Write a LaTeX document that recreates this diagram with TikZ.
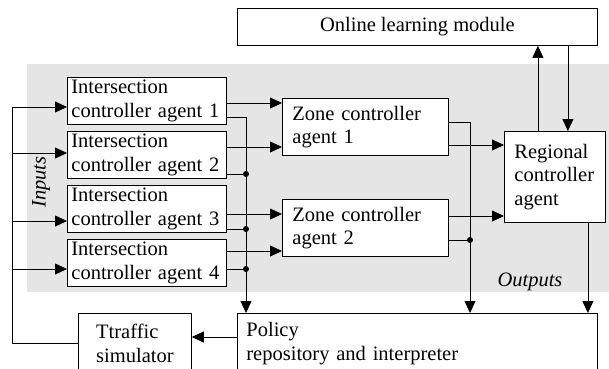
\documentclass[tikz,border=0pt]{standalone}
\usepackage{fontspec}
\setmainfont{Liberation Serif}
\usetikzlibrary{arrows.meta,positioning,calc}

\begin{document}
\begin{tikzpicture}[x=1pt, y=-1pt,
  font=\fontsize{20.5}{23.5}\selectfont, line width=0.8pt,
  box/.style={draw, fill=white, anchor=north west, align=left, inner ysep=0pt},
  ica/.style={box, minimum width=159pt, minimum height=47pt, inner xsep=4pt, text width=151pt},
  zca/.style={box, minimum width=166pt, minimum height=57pt, inner xsep=10pt, text width=146pt},
  arr/.style={-{Triangle[length=12pt,width=11pt]}},
  dot/.style={fill, circle, inner sep=0pt, minimum size=6pt}]
  \useasboundingbox (0,0) rectangle (609,368);
  \fill[black!10] (27,64) rectangle (609,292);
  \node[box, align=center, minimum width=360pt, minimum height=37pt] (olm) at (237,8) {Online learning module};
  \node[ica] (ica1) at (67,77) {Intersection\\controller agent 1};
  \node[ica] (ica2) at (67,131) {Intersection\\controller agent 2};
  \node[ica] (ica3) at (67,185) {Intersection\\controller agent 3};
  \node[ica] (ica4) at (67,239) {Intersection\\controller agent 4};
  \node[zca] (zca1) at (282,98) {Zone controller\\agent 1};
  \node[zca] (zca2) at (282,199) {Zone controller\\agent 2};
  \node[box, minimum width=101pt, minimum height=91pt, inner xsep=10pt, text width=81pt] (rca) at (504,131) {Regional\\controller\\agent};
  \node[box, minimum width=360pt, minimum height=60pt, inner xsep=9pt, text width=342pt] (pol) at (237,313) {Policy\\repository and interpreter};
  \node[box, minimum width=113pt, minimum height=60pt] (sim) at (78,313) {Ttraffic\\simulator};
  \node[rotate=90, font=\fontsize{20.5}{23.5}\selectfont\itshape] (inp) at (41,182) {Inputs};
  \node[font=\fontsize{20.5}{23.5}\selectfont\itshape] (outp) at (530,282) {Outputs};
  % inputs from the simulator
  \foreach \i/\y in {1/107,2/153,3/221,4/269} {
    \coordinate (in\i) at (12,\y);
    \draw[arr] (in\i) -- (in\i -| ica\i.west);
  }
  \draw (sim.west) -| (in1);
  % intersection agents
  \foreach \i/\a/\z in {1/26/1,2/16/1,3/29/2,4/12/2}
    \draw[arr] ($(ica\i.north east)+(0,\a)$) coordinate (o\i) -- (o\i -| zca\z.west);
  \coordinate (bus1) at (246,117);
  \draw[arr] (bus1 -| ica1.east) -- (bus1) -- (bus1 |- pol.north);
  \foreach \i/\b in {2/43,3/44,4/30} {
    \draw ($(ica\i.north east)+(0,\b)$) coordinate (p\i) -- (p\i -| bus1) node[dot] {};
  }
  % zone agents
  \draw[arr] ($(zca1.north east)+(0,47)$) coordinate (q1) -- (q1 -| rca.west);
  \draw[arr] ($(zca2.north east)+(0,17)$) coordinate (q2) -- (q2 -| rca.west);
  \coordinate (bus2) at (470,122);
  \draw[arr] (bus2 -| zca1.east) -- (bus2) -- (bus2 |- pol.north);
  \draw ($(zca2.north east)+(0,41)$) coordinate (q3) -- (q3 -| bus2) node[dot] {};
  % regional agent
  \draw[arr] ([xshift=-17pt]rca.north) -- ([xshift=-17pt]rca.north |- olm.south);
  \draw[arr] ([xshift=13pt]rca.north |- olm.south) -- ([xshift=13pt]rca.north);
  \draw[arr] ([xshift=33pt]rca.south) -- ([xshift=33pt]rca.south |- pol.north);
  \draw[arr] (pol.west |- 0,337) -- (sim.east |- 0,337);
\end{tikzpicture}
\end{document}
